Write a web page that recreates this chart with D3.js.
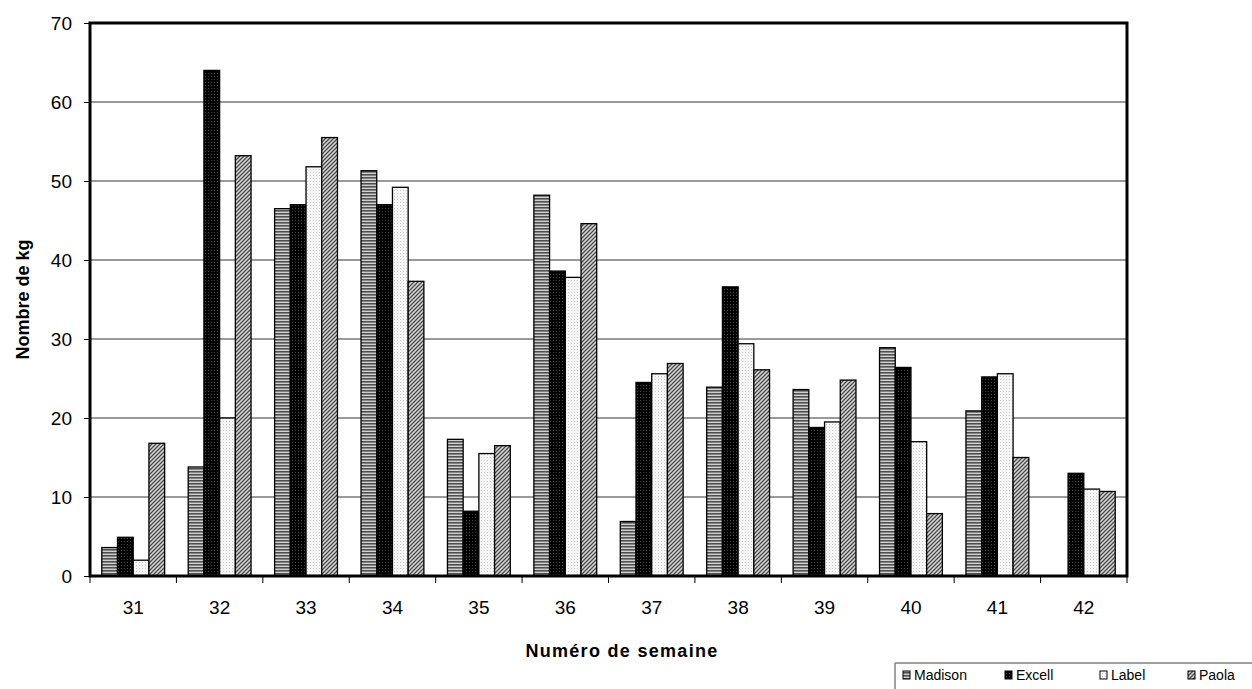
<!DOCTYPE html>
<html><head><meta charset="utf-8">
<script src="https://cdn.jsdelivr.net/npm/d3@7"></script>
<style>body{margin:0;background:#fff;} svg{display:block;font-family:Arial,"Liberation Sans",sans-serif;}</style>
</head><body>
<svg id="c" width="1252" height="689"></svg>
<script>
const weeks = ["31","32","33","34","35","36","37","38","39","40","41","42"];
const seriesNames = ["Madison","Excell","Label","Paola"];
const madison = [3.6,13.8,46.5,51.3,17.3,48.2,6.9,23.9,23.6,28.9,20.9,0];
const excell  = [4.9,64.0,47.0,47.0,8.2,38.6,24.5,36.6,18.8,26.4,25.2,13.0];
const label   = [2.0,20.0,51.8,49.2,15.5,37.8,25.6,29.4,19.5,17.0,25.6,11.0];
const paola   = [16.8,53.2,55.5,37.3,16.5,44.6,26.9,26.1,24.8,7.9,15.0,10.7];
const yTicks  = [0,10,20,30,40,50,60,70];
const seriesValues = [madison, excell, label, paola];

const FONT = "Arial, 'Liberation Sans', sans-serif";
const svg = d3.select("#c");
const defs = svg.append("defs");
// patterns
const pM = defs.append("pattern").attr("id","pM").attr("patternUnits","userSpaceOnUse").attr("width",4).attr("height",3);
pM.append("rect").attr("width",4).attr("height",3).attr("fill","#d0d0d0");
pM.append("rect").attr("y",0).attr("width",4).attr("height",1.6).attr("fill","#505050");
const pE = defs.append("pattern").attr("id","pE").attr("patternUnits","userSpaceOnUse").attr("width",3).attr("height",3);
pE.append("rect").attr("width",3).attr("height",3).attr("fill","#000");
pE.append("rect").attr("x",1).attr("y",1).attr("width",1).attr("height",1).attr("fill","#444");
const pL = defs.append("pattern").attr("id","pL").attr("patternUnits","userSpaceOnUse").attr("width",3).attr("height",3);
pL.append("rect").attr("width",3).attr("height",3).attr("fill","#f6f6f6");
pL.append("rect").attr("x",1).attr("y",1).attr("width",1).attr("height",1).attr("fill","#c8c8c8");
const pP = defs.append("pattern").attr("id","pP").attr("patternUnits","userSpaceOnUse").attr("width",4).attr("height",4);
pP.append("rect").attr("width",4).attr("height",4).attr("fill","#d8d8d8");
pP.append("path").attr("d","M-1,1 L1,-1 M0,4 L4,0 M3,5 L5,3").attr("stroke","#4a4a4a").attr("stroke-width",1.3);
const fills = ["url(#pM)","url(#pE)","url(#pL)","url(#pP)"];

const L = 90, R = 1127, T = 23, B = 576;
const x = d3.scaleBand().domain(weeks).range([L,R]).paddingInner(0).paddingOuter(0);
const y = d3.scaleLinear().domain([0,70]).range([B,T]);

// gridlines
svg.append("g").selectAll("line").data(yTicks.filter(d=>d>0&&d<70)).join("line")
  .attr("x1",L).attr("x2",R).attr("y1",d=>y(d)).attr("y2",d=>y(d))
  .attr("stroke","#000").attr("stroke-width",0.8);

// bars
const bw = x.bandwidth()/5.5;
const g = svg.append("g");
weeks.forEach((w,i)=>{
  seriesNames.forEach((s,j)=>{
    const v = seriesValues[j][i];
    const bx = x(w) + bw*0.75 + j*bw;
    g.append("rect").attr("x",bx).attr("y",y(v)).attr("width",bw).attr("height",Math.max(0,y(0)-y(v)))
      .attr("fill",fills[j]).attr("stroke","#000").attr("stroke-width",1.3);
  });
});

// y axis
const yAxis = d3.axisLeft(y).tickValues(yTicks).tickSize(6).tickPadding(12);
const ya = svg.append("g").attr("transform",`translate(${L},0)`).call(yAxis);
ya.select(".domain").remove();
ya.selectAll("text").attr("font-size",19).attr("fill","#000").attr("font-family",FONT);
// x axis
const xAxis = d3.axisBottom(x).tickSize(0).tickPadding(25);
const xa = svg.append("g").attr("transform",`translate(0,${B})`).call(xAxis);
xa.select(".domain").remove();
xa.selectAll("text").attr("font-size",19).attr("fill","#000").attr("font-family",FONT);
// category boundary ticks
svg.append("g").selectAll("line").data(weeks.concat(["end"])).join("line")
  .attr("x1",(d,i)=>L+i*x.bandwidth()).attr("x2",(d,i)=>L+i*x.bandwidth())
  .attr("y1",B).attr("y2",B+7).attr("stroke","#000").attr("stroke-width",1);

// frame
svg.append("rect").attr("x",L).attr("y",T).attr("width",R-L).attr("height",B-T)
  .attr("fill","none").attr("stroke","#000").attr("stroke-width",3);

// axis titles
svg.append("text").attr("transform",`translate(29,${(T+B)/2}) rotate(-90)`).attr("text-anchor","middle")
  .attr("font-size",18).attr("font-weight","bold").attr("font-family",FONT).text("Nombre de kg");
svg.append("text").attr("x",622).attr("y",657).attr("text-anchor","middle")
  .attr("font-size",18).attr("font-weight","bold").attr("letter-spacing",1.3).attr("font-family",FONT).text("Numéro de semaine");

// legend
const lg = svg.append("g");
lg.append("line").attr("x1",895).attr("x2",1252).attr("y1",663).attr("y2",663).attr("stroke","#808080").attr("stroke-width",1.5);
lg.append("line").attr("x1",895).attr("x2",895).attr("y1",663).attr("y2",689).attr("stroke","#808080").attr("stroke-width",1.5);
const lx = [903, 1005, 1100, 1188];
seriesNames.forEach((s,j)=>{
  lg.append("rect").attr("x",lx[j]).attr("y",671).attr("width",7).attr("height",8).attr("fill",fills[j]).attr("stroke","#000").attr("stroke-width",1);
  lg.append("text").attr("x",lx[j]+11).attr("y",679.5).attr("font-size",14).attr("font-family",FONT).text(s);
});
</script>
</body></html>
